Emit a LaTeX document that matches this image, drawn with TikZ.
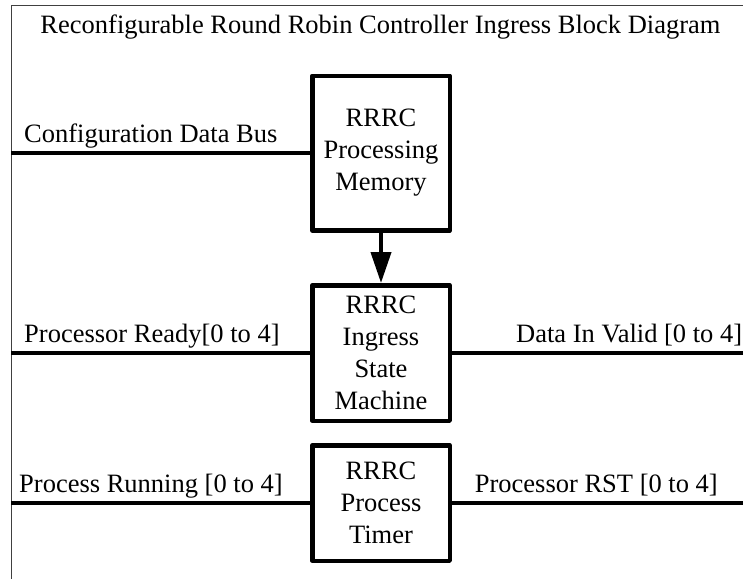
\documentclass[tikz,border=0pt]{standalone}
\usepackage{fontspec}
\setmainfont{Liberation Serif}
\usetikzlibrary{arrows.meta}
\begin{document}
\begin{tikzpicture}[x=1pt,y=-1pt,
  font=\fontsize{26.5}{32}\selectfont,
  block/.style={draw, line width=4.5pt, line join=round, align=center,
    minimum width=137.5pt, inner sep=0pt},
  wire/.style={line width=4pt},
  lbl/.style={inner sep=0pt},
  frame/.style={line width=1pt, draw=black!75}]
\useasboundingbox (0,0) rectangle (743,579);

% outer frame (top and left edges)
\coordinate (fTL) at (11,5);
\coordinate (fTR) at (743,5);
\coordinate (fBL) at (11,579);
\draw[frame] (fTR) -- (fTL) -- (fBL);

% title
\node[lbl, anchor=base] (title) at (380.5,33)
  {Reconfigurable Round Robin Controller Ingress Block Diagram};

% blocks
\node[block, minimum height=154.5pt] (mem) at (381,153) {RRRC\\Processing\\Memory};
\node[block, minimum height=135.5pt] (ism) at (381,353) {RRRC\\Ingress\\State\\Machine};
\node[block, minimum height=115.5pt] (tmr) at (381,503) {RRRC\\Process\\Timer};

% memory feeds the state machine
\draw[wire, -{Triangle[length=31pt,width=20pt]}] (mem.south) -- (ism.north);

% signal end points
\coordinate (cfgIn) at (11,153);
\coordinate (rdyIn) at (11,353);
\coordinate (dvOut) at (743,353);
\coordinate (runIn) at (11,503);
\coordinate (rstOut) at (743,503);

\draw[wire] (cfgIn) -- (mem.west);
\draw[wire] (rdyIn) -- (ism.west);
\draw[wire] (ism.east) -- (dvOut);
\draw[wire] (runIn) -- (tmr.west);
\draw[wire] (tmr.east) -- (rstOut);

% signal labels
\node[lbl, anchor=base west] (cfgL) at (24,142) {Configuration Data Bus};
\node[lbl, anchor=base west] (rdyL) at (24,342) {Processor Ready[0 to 4]};
\node[lbl, anchor=base west] (dvL) at (516,342) {Data In Valid [0 to 4]};
\node[lbl, anchor=base west] (runL) at (19,492) {Process Running [0 to 4]};
\node[lbl, anchor=base east] (rstL) at (718,492) {Processor RST [0 to 4]};
\end{tikzpicture}
\end{document}
